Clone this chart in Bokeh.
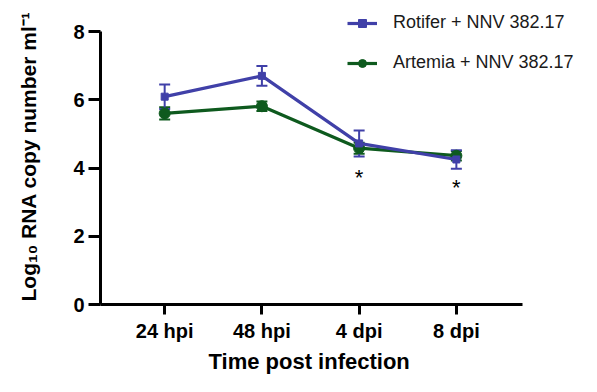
from bokeh.plotting import figure
from bokeh.models import (ColumnDataSource, Whisker, TeeHead, FixedTicker, Legend,
                          LegendItem, Range1d, Title)
from bokeh.core.properties import value
from bokeh.embed import file_html
from bokeh.resources import INLINE

# ---- data ----
time_labels = ["24 hpi", "48 hpi", "4 dpi", "8 dpi"]
x_pos = [0, 1, 2, 3]
rotifer_mean = [6.09, 6.70, 4.72, 4.25]
rotifer_err = [0.36, 0.29, 0.38, 0.27]
artemia_mean = [5.60, 5.81, 4.58, 4.36]
artemia_err = [0.18, 0.14, 0.16, 0.14]
sig_x = [2, 3]
sig_y = [3.72, 3.42]
sig_text = ["*", "*"]
y_ticks = [0, 2, 4, 6, 8]

BLUE = "#4040A8"
GREEN = "#0E5A1E"
FONT = "Liberation Sans"

# axis extents (the drawn axes) and the wider frame that also holds the legend
X_AXIS = (-0.66, 3.68)
Y_AXIS = (0, 8)

p = figure(width=581, height=376, output_backend="svg", toolbar_location=None,
           x_range=Range1d(-0.66, 4.287), y_range=Range1d(0, 8.674),
           min_border_left=100, min_border_right=0, min_border_top=8,
           min_border_bottom=72)
p.outline_line_color = None
p.xgrid.visible = False
p.ygrid.visible = False
p.background_fill_color = "white"
p.border_fill_color = "white"

def make_src(mean, err):
    return ColumnDataSource(dict(
        x=x_pos, y=mean,
        upper=[m + e for m, e in zip(mean, err)],
        lower=[m - e for m, e in zip(mean, err)],
    ))

src_a = make_src(artemia_mean, artemia_err)
src_r = make_src(rotifer_mean, rotifer_err)

def add_series(src, color, marker, msize):
    w = Whisker(base="x", upper="upper", lower="lower", source=src,
                line_color=color, line_width=2,
                upper_head=TeeHead(size=11, line_color=color, line_width=2),
                lower_head=TeeHead(size=11, line_color=color, line_width=2))
    p.add_layout(w)
    ln = p.line("x", "y", source=src, line_color=color, line_width=3.2)
    sc = p.scatter("x", "y", source=src, marker=marker, size=msize,
                   fill_color=color, line_color=color)
    return ln, sc

ln_a, sc_a = add_series(src_a, GREEN, "circle", 11)
ln_r, sc_r = add_series(src_r, BLUE, "square", 7)

p.text(x=sig_x, y=sig_y, text=sig_text, text_font=value(FONT),
       text_font_size="22px", text_align="center", text_baseline="middle",
       text_color="black")

# ---- axes ----
for ax in (p.xaxis[0], p.yaxis[0]):
    ax.axis_line_width = 3
    ax.axis_line_color = "black"
    ax.major_tick_line_width = 3
    ax.major_tick_line_color = "black"
    ax.major_tick_in = 0
    ax.minor_tick_line_color = None
    ax.major_label_text_font = FONT
    ax.major_label_text_font_style = "bold"
    ax.major_label_text_font_size = "20px"
    ax.major_label_text_color = "black"
    ax.axis_label_text_font = FONT
    ax.axis_label_text_font_style = "bold"
    ax.axis_label_text_color = "black"

p.xaxis.bounds = X_AXIS
p.xaxis.ticker = FixedTicker(ticks=x_pos)
p.xaxis.major_label_overrides = {i: t for i, t in zip(x_pos, time_labels)}
p.xaxis.major_tick_out = 10
p.xaxis.major_label_standoff = 5

# x-axis title, placed under the drawn axis (not the wider frame)
x_title = Title(text="Time post infection", align="left", offset=108,
                standoff=4, text_font=FONT, text_font_size="22px",
                text_font_style="bold", text_color="black")
p.add_layout(x_title, "below")

p.yaxis.bounds = Y_AXIS
p.yaxis.ticker = FixedTicker(ticks=y_ticks)
p.yaxis.major_tick_out = 12
p.yaxis.major_label_standoff = 4
p.yaxis.axis_label = "Log\u2081\u2080 RNA copy number ml\u207b\u00b9"
p.yaxis.axis_label_text_font_size = "21px"
p.yaxis.axis_label_standoff = 30

legend = Legend(items=[
    LegendItem(label="Rotifer + NNV 382.17", renderers=[ln_r, sc_r]),
    LegendItem(label="Artemia + NNV 382.17", renderers=[ln_a, sc_a]),
], location=(247, 231))
legend.border_line_color = None
legend.background_fill_alpha = 0
legend.padding = 0
legend.margin = 0
legend.glyph_width = 30
legend.glyph_height = 20
legend.label_height = 20
legend.label_standoff = 16
legend.spacing = 19
legend.label_text_font = FONT
legend.label_text_font_size = "18px"
legend.label_text_color = "#1a1a1a"
p.add_layout(legend)

open("out.html", "w").write(file_html(p, INLINE))
